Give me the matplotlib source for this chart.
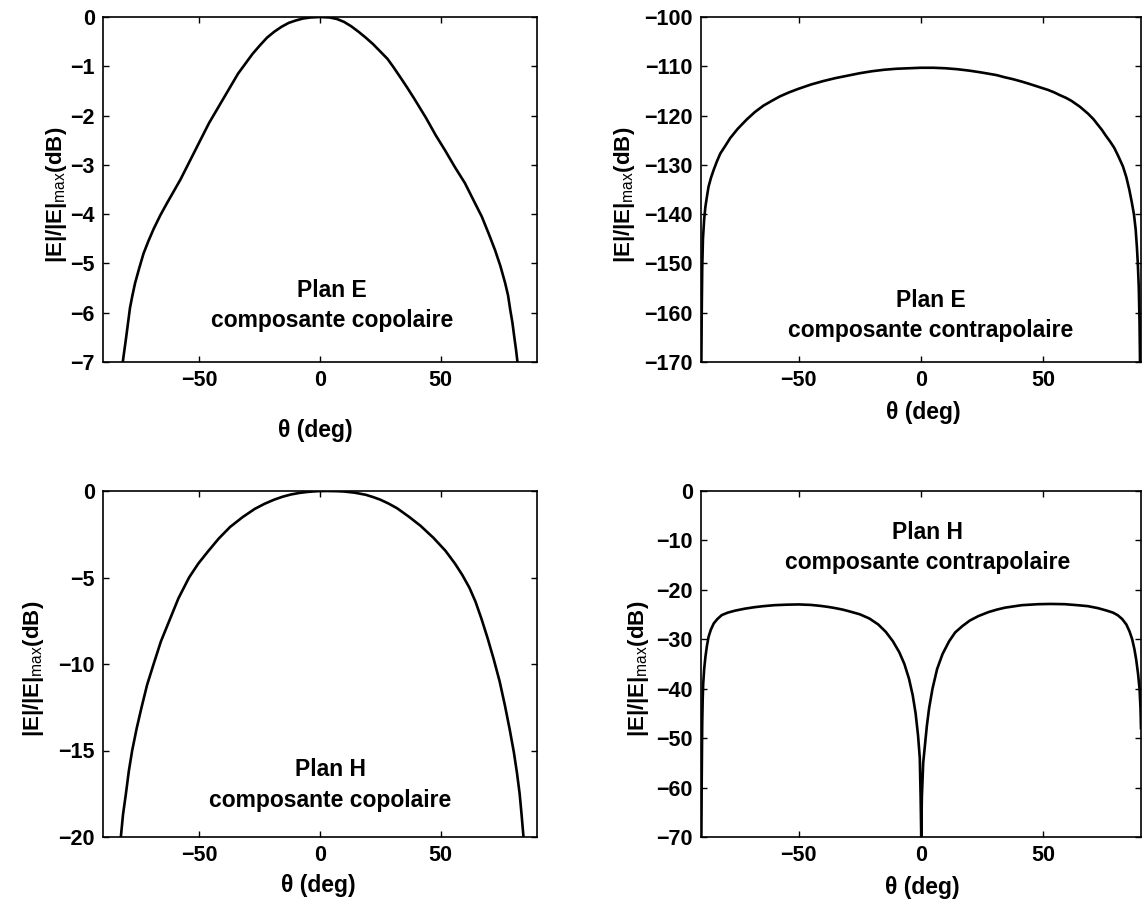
import numpy as np
import matplotlib
matplotlib.use('Agg')
import matplotlib.pyplot as plt

plt.rcParams['font.family'] = ['Liberation Sans', 'DejaVu Sans']
plt.rcParams['mathtext.fontset'] = 'custom'
plt.rcParams['mathtext.rm'] = 'Liberation Sans'
plt.rcParams['mathtext.it'] = 'Liberation Sans:italic'
plt.rcParams['mathtext.bf'] = 'Liberation Sans:bold'

# Plan E, composante copolaire
theta_ec = [-81.8, -81.1, -80.4, -79.6, -78.8, -77.8, -76.7, -75, -73.2, -71.2, -69, -66.3,
            -63.5, -60.7, -57.9, -54.8, -51.7, -48.8, -46, -43, -40, -37, -34, -31, -28, -25,
            -22, -19, -16, -13, -10, -7, -4, 0, 4, 7, 10, 13, 16, 19, 22, 25, 28, 30.5, 33,
            36, 39, 41.5, 44, 48, 51.8, 56, 60.1, 64, 67.1, 70, 72.6, 74.8, 76.8, 78, 78.9,
            79.8, 80.6, 81.3, 81.9]
db_ec = [-7.0, -6.75, -6.5, -6.2, -5.9, -5.65, -5.4, -5.1, -4.8, -4.55, -4.3, -4.03, -3.78,
         -3.54, -3.3, -3.0, -2.7, -2.42, -2.15, -1.9, -1.65, -1.4, -1.15, -0.95, -0.75, -0.58,
         -0.42, -0.3, -0.2, -0.12, -0.07, -0.03, -0.01, 0.0, -0.01, -0.04, -0.1, -0.19, -0.3,
         -0.42, -0.55, -0.7, -0.85, -1.02, -1.2, -1.42, -1.65, -1.85, -2.05, -2.4, -2.7, -3.05,
         -3.37, -3.75, -4.05, -4.4, -4.73, -5.05, -5.4, -5.65, -5.94, -6.2, -6.5, -6.75, -7.0]

# Plan E, composante contrapolaire
theta_ex = [-89.85, -89.7, -89.5, -89.2, -88.7, -88.2, -87.5, -86.9, -85.9, -84.8, -83.5,
            -82.1, -80, -78.1, -75, -71.3, -68, -64.5, -61, -57.7, -54, -50.3, -45, -40, -35,
            -30, -25, -20, -15, -10, -5, 0, 5, 10, 15, 20, 24, 27.6, 31, 34, 37.5, 41.2, 44.5,
            47, 49.5, 52, 54.5, 57, 59.3, 61.5, 65, 68.3, 70.5, 72.4, 74, 75.5, 77.4, 79, 80.5,
            82.6, 84, 85.2, 86.2, 87.1, 87.8, 88.3, 88.7, 89.1, 89.4, 89.6]
db_ex = [-170, -160, -151, -145, -141, -138.5, -136.2, -134.4, -132.6, -131.0, -129.3, -127.7,
         -126.1, -124.6, -122.7, -120.8, -119.3, -118.0, -117.0, -116.1, -115.3, -114.6, -113.7,
         -113.0, -112.4, -111.9, -111.4, -111.0, -110.7, -110.5, -110.4, -110.3, -110.3, -110.4,
         -110.6, -110.9, -111.2, -111.5, -111.8, -112.2, -112.6, -113.1, -113.6, -114.0, -114.4,
         -114.8, -115.3, -115.9, -116.4, -117.0, -118.2, -119.6, -120.7, -121.9, -122.9, -124.0,
         -125.3, -126.5, -128.0, -130.3, -132.5, -135.0, -137.5, -140.0, -143.0, -146.5, -150.0,
         -155.0, -162.0, -170.0]

# Plan H, composante copolaire
theta_hc = [-82.6, -81.7, -80.5, -79.3, -77.9, -76, -74, -71.7, -69, -66, -62.5, -58.7, -54.3,
            -50.5, -46.5, -42, -37.3, -32, -27, -23, -19, -15.5, -12, -8.5, -5, -1, 3, 7, 10,
            14.5, 19, 22, 25, 28.5, 32, 37, 41.6, 47, 52, 56, 59, 62, 64.5, 67, 69.5, 72, 74.5,
            76.7, 78.7, 80.4, 81.7, 82.8, 83.6, 84.4]
db_hc = [-20, -18.7, -17.5, -16.2, -15, -13.7, -12.5, -11.2, -10, -8.7, -7.5, -6.2, -5, -4.2,
         -3.5, -2.75, -2.08, -1.5, -1.03, -0.74, -0.5, -0.33, -0.2, -0.11, -0.05, -0.01, 0.0,
         -0.01, -0.03, -0.1, -0.22, -0.35, -0.5, -0.73, -1, -1.5, -2, -2.7, -3.45, -4.2, -4.85,
         -5.6, -6.4, -7.4, -8.5, -9.7, -11.0, -12.4, -13.8, -15.1, -16.3, -17.5, -18.7, -20]

# Plan H, composante contrapolaire
theta_hx = [-89.85, -89.7, -89.5, -89.3, -89.1, -88.7, -88.2, -87.6, -86.9, -86, -84.8, -83.3,
            -81.5, -79, -76, -72, -68, -64.5, -60, -55, -50, -45, -41, -38, -35, -32, -29.3,
            -25, -21.1, -17.5, -14.4, -11.5, -8.9, -6.8, -4.9, -3.4, -2.2, -1.2, -0.5, -0.15,
            0.1, 0.35, 0.9, 1.6, 2.4, 3.3, 4.7, 6.6, 8.8, 11.5, 14, 17, 20, 23.5, 27.6, 31,
            34.4, 41.2, 48, 53, 58.8, 64, 68.3, 72.4, 76, 78.5, 80.4, 82.3, 84, 85.3, 86.4,
            87.3, 88, 88.8, 89.4, 89.8, 90]
db_hx = [-70, -58, -47, -42, -39, -36, -33.6, -31.4, -29.5, -28.1, -26.8, -25.9, -25.1, -24.6,
         -24.2, -23.8, -23.5, -23.3, -23.1, -23.0, -22.95, -23.05, -23.25, -23.45, -23.7, -24.0,
         -24.35, -24.95, -25.8, -27.0, -28.5, -30.4, -32.6, -35.0, -38.0, -41.3, -45.0, -49.5,
         -54.0, -62.0, -70.0, -62.0, -55.0, -51.5, -47.5, -44.0, -40.0, -36.0, -33.0, -30.4,
         -28.6, -27.3, -26.2, -25.3, -24.5, -24.0, -23.6, -23.1, -22.9, -22.85, -22.9, -23.1,
         -23.3, -23.7, -24.2, -24.6, -25.1, -25.9, -27.0, -28.4, -30.0, -32.0, -34.0, -37.0,
         -40.0, -44.0, -48.0]

W, H = 1144, 902
fig = plt.figure(figsize=(W / 100, H / 100), dpi=100)

panels = [
    # (left, top, right, bottom) px, data, ylim, yticks, text, text pos, ylabel x, xlabel y, xlabel x
    ((103, 17, 537, 362), theta_ec, db_ec, (-7, 0), np.arange(-7, 1, 1),
     'Plan E\ncomposante copolaire', (5, -5.85), -0.108, -0.166, 0.49),
    ((701, 17, 1141, 362), theta_ex, db_ex, (-170, -100), np.arange(-170, -99, 10),
     'Plan E\ncomposante contrapolaire', (4, -160.6), -0.175, -0.114, 0.505),
    ((103, 491, 537, 837), theta_hc, db_hc, (-20, 0), np.arange(-20, 1, 5),
     'Plan H\ncomposante copolaire', (4.4, -17.0), -0.16, -0.106, 0.495),
    ((701, 491, 1141, 837), theta_hx, db_hx, (-70, 0), np.arange(-70, 1, 10),
     'Plan H\ncomposante contrapolaire', (2.8, -11.4), -0.143, -0.112, 0.502),
]

for box, th, db, ylim, yt, txt, tpos, ylx, xly, xlx in panels:
    l, t, r, b = box
    ax = fig.add_axes([l / W, 1 - b / H, (r - l) / W, (b - t) / H])
    ax.plot(th, db, color='black', lw=1.9)
    ax.set_xlim(-90, 90)
    ax.set_ylim(*ylim)
    ax.set_xticks([-50, 0, 50])
    ax.set_yticks(yt)
    ax.tick_params(direction='in', top=True, right=True, length=4, width=1,
                   labelsize=15.5, pad=6)
    for lab in ax.get_xticklabels() + ax.get_yticklabels():
        lab.set_fontweight('bold')
    for s in ax.spines.values():
        s.set_linewidth(1.2)
    ax.text(tpos[0], tpos[1], txt, ha='center', va='center', fontsize=16.5,
            fontweight='bold', linespacing=1.4)
    ax.text(ylx, 0.485, r'|E|/|E|$_{\mathrm{max}}$(dB)', rotation=90, ha='center',
            va='center', transform=ax.transAxes, fontsize=16, fontweight='bold')
    ax.text(xlx, xly, 'θ (deg)', ha='center', va='top', transform=ax.transAxes,
            fontsize=16.5, fontweight='bold')

fig.savefig('out.png', dpi=100)
